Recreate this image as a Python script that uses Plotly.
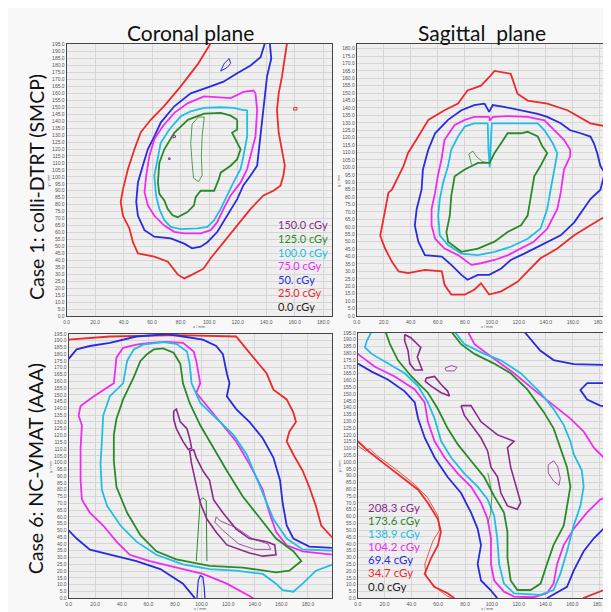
import plotly.graph_objects as go

# ---------------- data ----------------
CASE1_LEVELS = ["150.0 cGy", "125.0 cGy", "100.0 cGy", "75.0 cGy", "50. cGy", "25.0 cGy", "0.0 cGy"]
CASE6_LEVELS = ["208.3 cGy", "173.6 cGy", "138.9 cGy", "104.2 cGy", "69.4 cGy", "34.7 cGy", "0.0 cGy"]
LEVEL_COLORS = ["#8c2a8c", "#2a8a2a", "#22bde6", "#f02cf0", "#2a2ae0", "#ee2a2a", "#222222"]

PANEL_TITLES = ["Coronal plane", "Sagittal  plane"]
ROW_TITLES = ["Case 1: colli-DTRT (SMCP)", "Case 6: NC-VMAT (AAA)"]
AXIS_TITLES = ["x / mm", "y / mm"]

# Case 1 coronal (x, y in mm)
C1_COR_RED = [(101, 196), (92, 181), (80, 165), (68.5, 151), (59, 141), (52, 132), (47.6, 120), (43, 105.6),
              (39.5, 91), (37.9, 82), (39.5, 72), (44, 63), (46.5, 53), (50, 45), (61.5, 42.7), (71, 39),
              (78, 29.7), (82.5, 27), (88, 29.7), (96, 34), (101, 41.5), (110, 53), (119.6, 65), (129, 77),
              (138, 86.6), (145, 90), (150, 93.7), (152, 101), (153, 108), (151, 120), (148.7, 131.7),
              (147.5, 148), (148.7, 160), (151, 172), (153, 184), (154.5, 196)]
C1_COR_RED_ISLAND = [(159, 148), (161.5, 148), (161.5, 149.8), (159.5, 150), (159, 148)]
C1_COR_BLUE = [(142.5, 196), (143.5, 185), (140.5, 172), (138, 148), (135.6, 124.5), (133.6, 108), (129, 101),
               (124, 94), (119.6, 84), (112.7, 72), (105.7, 60.5), (98.7, 53), (94, 49.8), (88, 48.6),
               (82.5, 52), (73, 55.8), (61.5, 57), (54.6, 61.7), (50, 72), (48.8, 82), (50, 96), (53.4, 108),
               (57, 120), (61.5, 129), (66, 139), (75.5, 150.7), (87, 160), (101, 165), (110, 168.4),
               (119.6, 174.4), (129, 180), (136, 186), (139, 196)]
C1_COR_BLUE_ISLAND = [(108, 176), (110.5, 181.5), (114, 185), (115, 181.5), (112.7, 178.7), (109, 177), (108, 176)]
C1_COR_MAGENTA = [(132.4, 160), (133.6, 148), (132.4, 129), (129, 115), (126.6, 105.6), (122, 96), (115, 86.6),
                  (110, 77), (105.7, 67.6), (101, 61.7), (94, 59.3), (82.5, 59.3), (75.5, 60.5), (68.5, 65),
                  (61.5, 72), (57, 79.5), (54.6, 89), (55.8, 100.8), (58, 115), (61.5, 127), (67.4, 136.4),
                  (75.5, 146), (85, 153), (96.4, 157.8), (105.7, 157.3), (115, 156.6), (124, 161), (131, 162),
                  (132.4, 160)]
C1_COR_CYAN = [(126.6, 148), (126.6, 129), (124, 115), (122, 105.6), (117, 96), (112.7, 86.6), (108, 77),
               (103.4, 68.8), (98.7, 64), (91.8, 62.9), (80, 62.4), (73, 64), (68.5, 68.8), (65, 77),
               (62.7, 86.6), (61.5, 100.8), (64, 115), (66, 124.5), (72, 134), (80, 143.5), (87, 147),
               (96.4, 149.5), (108, 150), (117, 149.5), (124, 148), (126.6, 148)]
C1_COR_GREEN = [(119.6, 141), (119.6, 134), (116, 131.7), (119.6, 124.5), (122, 119.8), (119.6, 112.7),
                (115, 108), (108, 103), (106.8, 98.5), (103.4, 90), (94, 90), (90.5, 85.4), (89.3, 79.5),
                (84.7, 74.7), (77.8, 71), (74.3, 72.4), (70.8, 77), (68.5, 83), (65, 87.8), (64, 96), (65, 110),
                (68.5, 119.8), (75.5, 131.7), (85, 141), (96.4, 145.4), (108, 146), (115, 144), (119.6, 141)]
C1_COR_GREEN_INNER = [(88, 138), (87, 124), (88, 110), (89, 99), (92.5, 96.5), (95, 101), (94.5, 115),
                      (95, 129), (96.5, 143), (92.5, 143), (88, 138)]
C1_COR_PURPLE_A = [(74.5, 128), (76.5, 128.5), (76, 130), (74.5, 129.6), (74.5, 128)]
C1_COR_PURPLE_B = [(71.5, 112.5), (72.6, 112.5), (72.6, 113.6), (71.5, 113.6), (71.5, 112.5)]

# Case 1 sagittal
C1_SAG_RED = [(194, 126), (173, 129.7), (156, 138.5), (141, 143), (126.5, 145), (119, 149.6), (114, 163), (102, 165),
              (98, 160.7), (92, 155), (82, 151.8), (75, 143), (65, 138.5), (53, 132), (45.6, 120.8), (38, 109.7),
              (34.6, 100.9), (26, 85), (23.5, 83), (21, 72), (17.4, 54), (21, 45.4), (26, 36.6), (31, 30),
              (38, 28.8), (50.5, 31), (63, 30), (65, 21), (70, 14.4), (80, 14.4), (87, 17.7), (92, 22), (98, 14.4),
              (107, 16.6), (119, 23), (126.5, 30), (136, 38.8), (148.5, 45.4), (161, 54.3), (173, 61),
              (185, 67.6), (194, 74)]
C1_SAG_BLUE = [(94.6, 143), (87, 141.9), (77.5, 138.5), (67.6, 132), (58, 123), (53, 112), (49, 98.6), (48, 85),
               (44.4, 72), (43, 61), (45.6, 50), (50.5, 41), (63, 40), (70, 34.4), (77.5, 27.7), (82, 24.4),
               (89.7, 27.7), (98, 27.7), (107, 32), (114, 37.7), (124, 42), (136, 47.7), (151, 54.3), (161, 63),
               (168, 72), (173, 78.7), (180.4, 85), (183.6, 96.4), (180.4, 100.9), (178, 109.7), (175.5, 116.4),
               (173, 120.8), (165.7, 123), (158, 125), (151, 129.7), (141, 134), (134, 136), (122, 138.5),
               (109, 140.8), (100.7, 142), (98, 137.4), (94.6, 143)]
C1_SAG_MAGENTA = [(98.3, 134), (87, 134), (80, 132), (72.5, 128.6), (65, 118.6), (62.7, 105.3), (60, 94), (58, 83),
                  (55.4, 72), (55.4, 61), (58, 52), (65, 45.4), (75, 41), (84.8, 34.4), (92, 35.5), (102, 37.7),
                  (112, 41), (121.6, 45.4), (131, 50), (141, 58.7), (148.5, 72), (151, 83), (153.4, 98.6),
                  (158, 107.5), (158, 112), (153.4, 118.6), (146, 125), (139, 131.7), (126.5, 134),
                  (111.7, 134.6), (101, 134), (98.3, 131.5), (98.3, 134)]
C1_SAG_CYAN = [(97, 129.7), (87, 129.7), (80, 127.5), (75, 120.8), (70, 112), (67.6, 100.9), (64, 89.8),
               (61.5, 78.7), (60.3, 67.6), (61.5, 54.3), (67.6, 47.7), (77.5, 42), (89.7, 41), (102, 43.2),
               (114, 46.6), (126.5, 52), (136, 58.7), (141, 72), (143.6, 85.3), (146, 98.6), (148.5, 109.7),
               (145, 116.4), (139, 125), (134, 129.7), (122, 129.7), (109.3, 129.7), (100, 129.7), (99, 112),
               (98.5, 100), (97.5, 112), (97, 129.7)]
C1_SAG_GREEN = [(121.6, 123), (111.7, 123), (107, 116.4), (102, 109.7), (98.3, 103), (89.7, 103), (80, 98.6),
                (72.5, 94), (70, 81), (68.9, 67.6), (66.4, 56.5), (67.6, 50), (77.5, 43.2), (89.7, 45.4), (102, 50),
                (111.7, 56.5), (121.6, 61), (126.5, 67.6), (129, 81), (131.4, 94), (136, 100.9), (138.7, 105.3),
                (141, 109.7), (137.5, 114), (134, 120.8), (126.5, 124), (121.6, 123)]
C1_SAG_GREEN_THIN = [(85, 102), (83, 109), (86, 111), (89, 107), (93, 104), (98, 103)]

# Case 6 coronal
C6_COR_RED = [(0, 190.7), (31, 193), (81, 194), (126, 193), (131, 187), (139, 177.6), (149, 165.7), (154, 153.8),
              (164, 146.6), (169, 137), (171, 130), (166, 122.8), (164, 115.6), (169, 106), (176, 94), (181, 82),
              (186, 68), (190, 53.6), (199, 44)]
C6_COR_BLUE = [(0, 176.4), (6, 183.5), (16, 186), (31, 188.3), (51, 193), (74, 194.7), (86, 193), (101, 190.7),
               (111, 186), (116, 180), (119, 165.7), (121, 158.5), (119, 149), (126, 139.5), (136, 130), (146, 118),
               (154, 103.7), (159, 87), (161, 70), (164, 53.6), (169, 44), (181, 38), (199, 37)]
C6_COR_BLUE_LOW = [(0, 50), (6, 44), (16, 35.8), (31, 32), (51, 27.4), (69, 21.5), (86, 10.7), (95, 0)]
C6_COR_BLUE_SPIKE = [(96.5, 0), (97.5, 13), (99, 16.7), (101, 15.5), (102, 8), (102.5, 0)]
C6_COR_MAGENTA = [(139, 0), (119, 10.7), (101, 17.9), (81, 22.6), (61, 27.4), (46, 32), (36, 41.7), (26, 53.6),
                  (16, 63), (10, 72.7), (9, 87), (9, 110.8), (10, 127.5), (7.5, 134.7), (9, 141.8), (19, 149),
                  (34, 158.5), (36, 177.6), (41, 184.7), (51, 187), (61, 188.3), (74, 189), (86, 188.3), (94, 182),
                  (96, 175), (99, 158.5), (96, 151.5), (106, 139.5), (116, 127.5), (126, 115.6), (136, 99),
                  (146, 80), (151, 63), (156, 49), (164, 39), (176, 34.6), (199, 32)]
C6_COR_CYAN = [(199, 25), (186, 20.3), (176, 10.7), (169, 4.8), (161, 6), (156, 10.7), (146, 17.9), (126, 20.3),
               (106, 21.5), (86, 25), (66, 32), (51, 41.7), (39, 53.6), (29, 68), (25, 80), (24, 99), (25, 115.6),
               (26, 134.7), (31, 149), (41, 158.5), (44, 175), (49, 183.5), (56, 187), (71, 188.8), (81, 187.6),
               (89, 182), (91, 172.8), (92.5, 158.5), (99, 144), (111, 132.3), (124, 120.4), (134, 106),
               (141, 89.4), (149, 70.3), (154, 58.4), (164, 44), (176, 36), (199, 35)]
C6_COR_GREEN = [(59, 180), (64, 183.5), (71, 184.2), (79, 181), (84, 172.8), (86, 158.5), (91, 144), (99, 127.5),
                (109, 110.8), (119, 94), (131, 75), (144, 58.4), (156, 44), (169, 34.6), (175, 27.4), (166, 20.3),
                (156, 19), (131, 22.6), (106, 23.8), (81, 28.6), (66, 34.6), (54, 46.5), (44, 63), (36, 82),
                (34, 101), (34, 120.4), (36, 132.3), (41, 146.6), (49, 163), (54, 175), (59, 180)]
C6_COR_GREEN_SPIKE = [(96, 27.4), (97.5, 55), (99, 72.7), (101, 74), (103.5, 72), (104, 27.4)]
C6_COR_PURPLE_A = [(79, 138), (81, 139.5), (84, 130), (89, 125), (91, 118), (92.5, 110.8), (90, 109.7), (86, 115.6),
                   (81, 125), (79, 132.3), (79, 138)]
C6_COR_PURPLE_B = [(94, 109.7), (96, 103.7), (101, 94), (106, 87), (109, 72.7), (116, 63), (126, 51), (136, 44),
                   (149, 41.7), (155, 39.3), (156, 32), (146, 31), (136, 33.4), (126, 37), (119, 39.3), (111, 48.6),
                   (104, 58.4), (99, 70.3), (95, 87), (92.5, 99), (91, 108.5), (94, 109.7)]
C6_COR_PURPLE_THIN = [(111, 60), (114, 57), (126, 52), (138, 44), (150, 40), (152, 36), (140, 36), (128, 40),
                      (116, 50), (110, 56), (111, 60)]

# Case 6 sagittal
C6_SAG_RED = [(0, 115.3), (8, 108), (20, 98.7), (32.6, 89), (45, 79.7), (52.3, 70), (59.8, 58), (62, 48.8),
              (59.8, 39), (54.8, 29.7), (49.9, 17.8), (57, 8.3), (67, 3.6), (72, 0)]
C6_SAG_RED_THIN = [(0, 112), (6, 108), (9, 110), (14, 105), (28, 95), (42, 84), (52, 74), (60, 60), (61, 50),
                   (56, 42), (50, 25), (51, 16), (58, 8), (66, 2), (70, 0)]
C6_SAG_RED_RIGHT = [(168, 0), (176, 3), (186, 7), (194, 11)]
C6_SAG_BLUE = [(0, 172.4), (10.4, 166.5), (22.7, 160.5), (35, 152), (42.5, 143.9), (45, 132), (50, 117.7),
               (57.3, 103.4), (67, 89), (77, 77.3), (84.4, 63), (89.4, 51), (91.9, 39), (89.4, 25), (91.9, 13),
               (99, 6), (104, 0)]
C6_SAG_BLUE_RIGHT = [(141, 0), (156, 8.3), (161, 20.2), (168.4, 34.5), (176, 44), (185.7, 53.5), (194, 58.3)]
C6_SAG_BLUE_TOP = [(124, 196), (136, 182), (146, 175), (161, 172), (194, 171.2)]
C6_SAG_BLUE_LOOP = [(194, 158), (171, 158), (166, 153), (171, 146), (180.7, 141.5), (194, 139)]
C6_SAG_MAGENTA = [(0, 179.5), (12.8, 170), (27.6, 162.9), (42.5, 153.4), (49.9, 143.9), (52.3, 129.6),
                  (57.3, 115.3), (64.7, 103.4), (74.6, 91.6), (84.4, 82), (91.9, 70.2), (96.8, 58.3), (99.3, 44),
                  (99.3, 25), (101.7, 13), (109, 4.8), (116.5, 1.2), (131, 0.7), (141, 3.6), (146, 10.7),
                  (148.6, 25), (153.6, 39.2), (161, 51), (171, 63), (180.7, 72.5), (194, 77.3)]
C6_SAG_MAGENTA_TOP = [(82, 196), (87, 186.7), (96.8, 179.5), (106.7, 172.4), (116.5, 165.3), (131, 153.4),
                      (146, 141.5), (158.5, 132), (168.4, 122.5), (176, 110.6), (185.7, 101), (194, 96.3)]
C6_SAG_CYAN = [(10.4, 196), (6.7, 189), (5.4, 184.3), (10.4, 179.5), (22.7, 172.4), (35, 165.3), (45, 155.8),
               (52.3, 143.9), (57.3, 132), (62.2, 115.3), (69.6, 103.4), (79.5, 91.6), (89.4, 82), (96.8, 72.5),
               (101.7, 60.6), (104, 44), (105.4, 25), (109, 10.7), (116.5, 3.6), (136, 2.4), (146, 6),
               (151, 17.8), (156, 34.5), (161, 53.5), (166, 67.8), (168.4, 82), (167, 94), (161, 105.8),
               (158.5, 115.3), (153.6, 127.2), (146, 139), (136.3, 150.9), (121.5, 165.3), (106.7, 174.8),
               (94.3, 179.5), (79.5, 186.7), (72, 196)]
C6_SAG_GREEN = [(20.7, 196), (24, 186.7), (30, 174.8), (40, 162.9), (52.3, 151), (59.8, 139), (67, 124.8),
                (74.6, 113), (84.4, 101), (94.3, 89), (101.7, 75), (109, 63), (111.6, 48.8), (111.6, 29.7),
                (114, 13), (119, 6), (128.9, 6), (136.3, 10.7), (141, 25), (146, 39.2), (153.6, 53.5),
                (156, 67.8), (158.5, 82), (156, 96.3), (151, 110.6), (146, 124.8), (138.7, 136.7),
                (126.4, 153.4), (114, 165.3), (101.7, 172.4), (87, 179.5), (77, 186.7), (69.6, 196)]
C6_SAG_GREEN_THIN = [(97, 92), (98.5, 85), (100, 75), (99, 62), (97, 55)]
C6_SAG_PURPLE_A = [(35, 193.8), (39.5, 191.4), (47, 184.3), (44.4, 177.2), (48.1, 167.7), (42.5, 167.7),
                   (38.8, 172.4), (37.5, 181.9), (35, 189), (35, 193.8)]
C6_SAG_PURPLE_B = [(51, 161.7), (57.3, 162.9), (62.2, 157), (67, 152.2), (68.4, 148.6), (62.2, 151), (54.8, 155.8),
                   (50.4, 159.3), (51, 161.7)]
C6_SAG_PURPLE_C = [(77, 141.5), (84.4, 141.5), (91.9, 129.6), (104.2, 120), (116.5, 115.3), (111.6, 110.6),
                   (114, 96.3), (119, 79.7), (121.5, 70.2), (119, 65.4), (111.6, 67.8), (106.7, 77.3),
                   (104.2, 89.2), (99.3, 96.3), (96.8, 108.2), (91.9, 117.7), (84.4, 127.2), (79.5, 134.3),
                   (77, 141.5)]
C6_SAG_PURPLE_D = [(65, 169), (70, 171), (74, 169.5), (72, 167), (66, 167), (65, 169)]
C6_SAG_PURPLE_E = [(142, 98), (146, 101), (149, 97), (151, 88), (150, 83), (146, 86), (142, 92), (142, 98)]

# ---------------- layout helpers ----------------
W, H = 611, 612


def px(x):
    return x / W


def py(y):
    return 1 - y / H


# panel: (left px, right px, top px, bottom px, xmax, ymax, x-title y px)
PANELS = [
    (56, 323, 33, 308, 186, 195.7, 318.5),
    (348, 611, 33, 308, 193.4, 183.3, 318.5),
    (58, 323, 326, 593, 198, 195, 603),
    (349, 611, 325, 593, 194, 195, 603),
]

PANEL_LINES = [
    [(C1_COR_RED, 5, 1.8), (C1_COR_RED_ISLAND, 5, 1.0), (C1_COR_BLUE, 4, 1.8), (C1_COR_BLUE_ISLAND, 4, 1.0),
     (C1_COR_MAGENTA, 3, 1.8), (C1_COR_CYAN, 2, 1.8), (C1_COR_GREEN, 1, 1.8), (C1_COR_GREEN_INNER, 1, 0.8),
     (C1_COR_PURPLE_A, 0, 1.0), (C1_COR_PURPLE_B, 0, 1.0)],
    [(C1_SAG_RED, 5, 1.8), (C1_SAG_BLUE, 4, 1.8), (C1_SAG_MAGENTA, 3, 1.8), (C1_SAG_CYAN, 2, 1.8),
     (C1_SAG_GREEN, 1, 1.8), (C1_SAG_GREEN_THIN, 1, 0.8)],
    [(C6_COR_RED, 5, 1.8), (C6_COR_BLUE, 4, 1.8), (C6_COR_BLUE_LOW, 4, 1.8), (C6_COR_BLUE_SPIKE, 4, 1.2),
     (C6_COR_MAGENTA, 3, 1.8), (C6_COR_CYAN, 2, 1.8), (C6_COR_GREEN, 1, 1.8), (C6_COR_GREEN_SPIKE, 1, 1.0),
     (C6_COR_PURPLE_A, 0, 1.6), (C6_COR_PURPLE_B, 0, 1.6), (C6_COR_PURPLE_THIN, 0, 0.8)],
    [(C6_SAG_RED, 5, 1.8), (C6_SAG_RED_THIN, 5, 0.8), (C6_SAG_RED_RIGHT, 5, 1.8), (C6_SAG_BLUE, 4, 1.8),
     (C6_SAG_BLUE_RIGHT, 4, 1.8), (C6_SAG_BLUE_TOP, 4, 1.8), (C6_SAG_BLUE_LOOP, 4, 1.8),
     (C6_SAG_MAGENTA, 3, 1.8), (C6_SAG_MAGENTA_TOP, 3, 1.8), (C6_SAG_CYAN, 2, 1.8), (C6_SAG_GREEN, 1, 1.8),
     (C6_SAG_GREEN_THIN, 1, 0.8), (C6_SAG_PURPLE_A, 0, 1.6), (C6_SAG_PURPLE_B, 0, 1.6),
     (C6_SAG_PURPLE_C, 0, 1.6), (C6_SAG_PURPLE_D, 0, 0.8), (C6_SAG_PURPLE_E, 0, 0.8)],
]

fig = go.Figure()
layout = dict(
    width=W, height=H, margin=dict(l=0, r=0, t=0, b=0),
    paper_bgcolor="#f8f8f8", plot_bgcolor="#efefef", showlegend=False,
    font=dict(family="Lato, Noto Sans, sans-serif", color="#222"),
)
annotations = []

for i, (l, r, t, b, xmax, ymax, xt) in enumerate(PANELS):
    n = i + 1
    sfx = "" if n == 1 else str(n)
    layout["xaxis" + sfx] = dict(
        domain=[px(l), px(r)], range=[0, xmax], anchor="y" + sfx,
        dtick=20, tick0=0, tickformat=".1f", showgrid=True, gridcolor="#d6d6d6", gridwidth=0.6,
        zeroline=False, showline=True, mirror=True, linecolor="#444", linewidth=1,
        ticks="", ticklabelstandoff=1, tickfont=dict(size=5, color="#555", family="Liberation Sans, Arial"),
    )
    layout["yaxis" + sfx] = dict(
        domain=[py(b), py(t)], range=[0, ymax], anchor="x" + sfx,
        dtick=5, tick0=0, tickformat=".1f", showgrid=True, gridcolor="#d6d6d6", gridwidth=0.6,
        zeroline=False, showline=True, mirror=True, linecolor="#444", linewidth=1,
        ticks="", tickfont=dict(size=5, color="#555", family="Liberation Sans, Arial"),
    )
    annotations.append(dict(text=AXIS_TITLES[0], x=px((l + r) / 2), y=py(xt), xref="paper", yref="paper",
                            showarrow=False, xanchor="center", yanchor="middle", borderpad=0,
                            font=dict(size=4, color="#555", family="Liberation Sans, Arial")))
    annotations.append(dict(text=AXIS_TITLES[1], x=px(l - 18), y=py((t + b) / 2), xref="paper", yref="paper",
                            showarrow=False, xanchor="center", yanchor="middle", textangle=-90, borderpad=0,
                            font=dict(size=4, color="#555", family="Liberation Sans, Arial")))
    for pts, ci, w in PANEL_LINES[i]:
        fig.add_trace(go.Scatter(
            x=[p[0] for p in pts], y=[p[1] for p in pts], mode="lines",
            line=dict(color=LEVEL_COLORS[ci], width=w),
            xaxis="x" + sfx, yaxis="y" + sfx, hoverinfo="skip",
        ))

# column titles
for text, cx in zip(PANEL_TITLES, [181, 474]):
    annotations.append(dict(text=text, x=px(cx), y=py(22), xref="paper", yref="paper", showarrow=False,
                            xanchor="center", yanchor="middle", font=dict(size=21, color="#111")))
# row titles
for text, cy in zip(ROW_TITLES, [178, 462]):
    annotations.append(dict(text=text, x=px(25), y=py(cy), xref="paper", yref="paper", showarrow=False,
                            textangle=-90, xanchor="center", yanchor="middle", font=dict(size=19.5, color="#111")))
# in-plot isodose labels
for labels, lx, ly0, step, fs in [(CASE1_LEVELS, 267, 216, 13.7, 11), (CASE6_LEVELS, 357, 501, 13.3, 11.5)]:
    for k, lab in enumerate(labels):
        annotations.append(dict(text=lab, x=px(lx), y=py(ly0 + k * step), xref="paper", yref="paper",
                                showarrow=False, xanchor="left", yanchor="middle",
                                font=dict(size=fs, color=LEVEL_COLORS[k])))
layout["annotations"] = annotations
fig.update_layout(**layout)
fig.write_html("out.html")
